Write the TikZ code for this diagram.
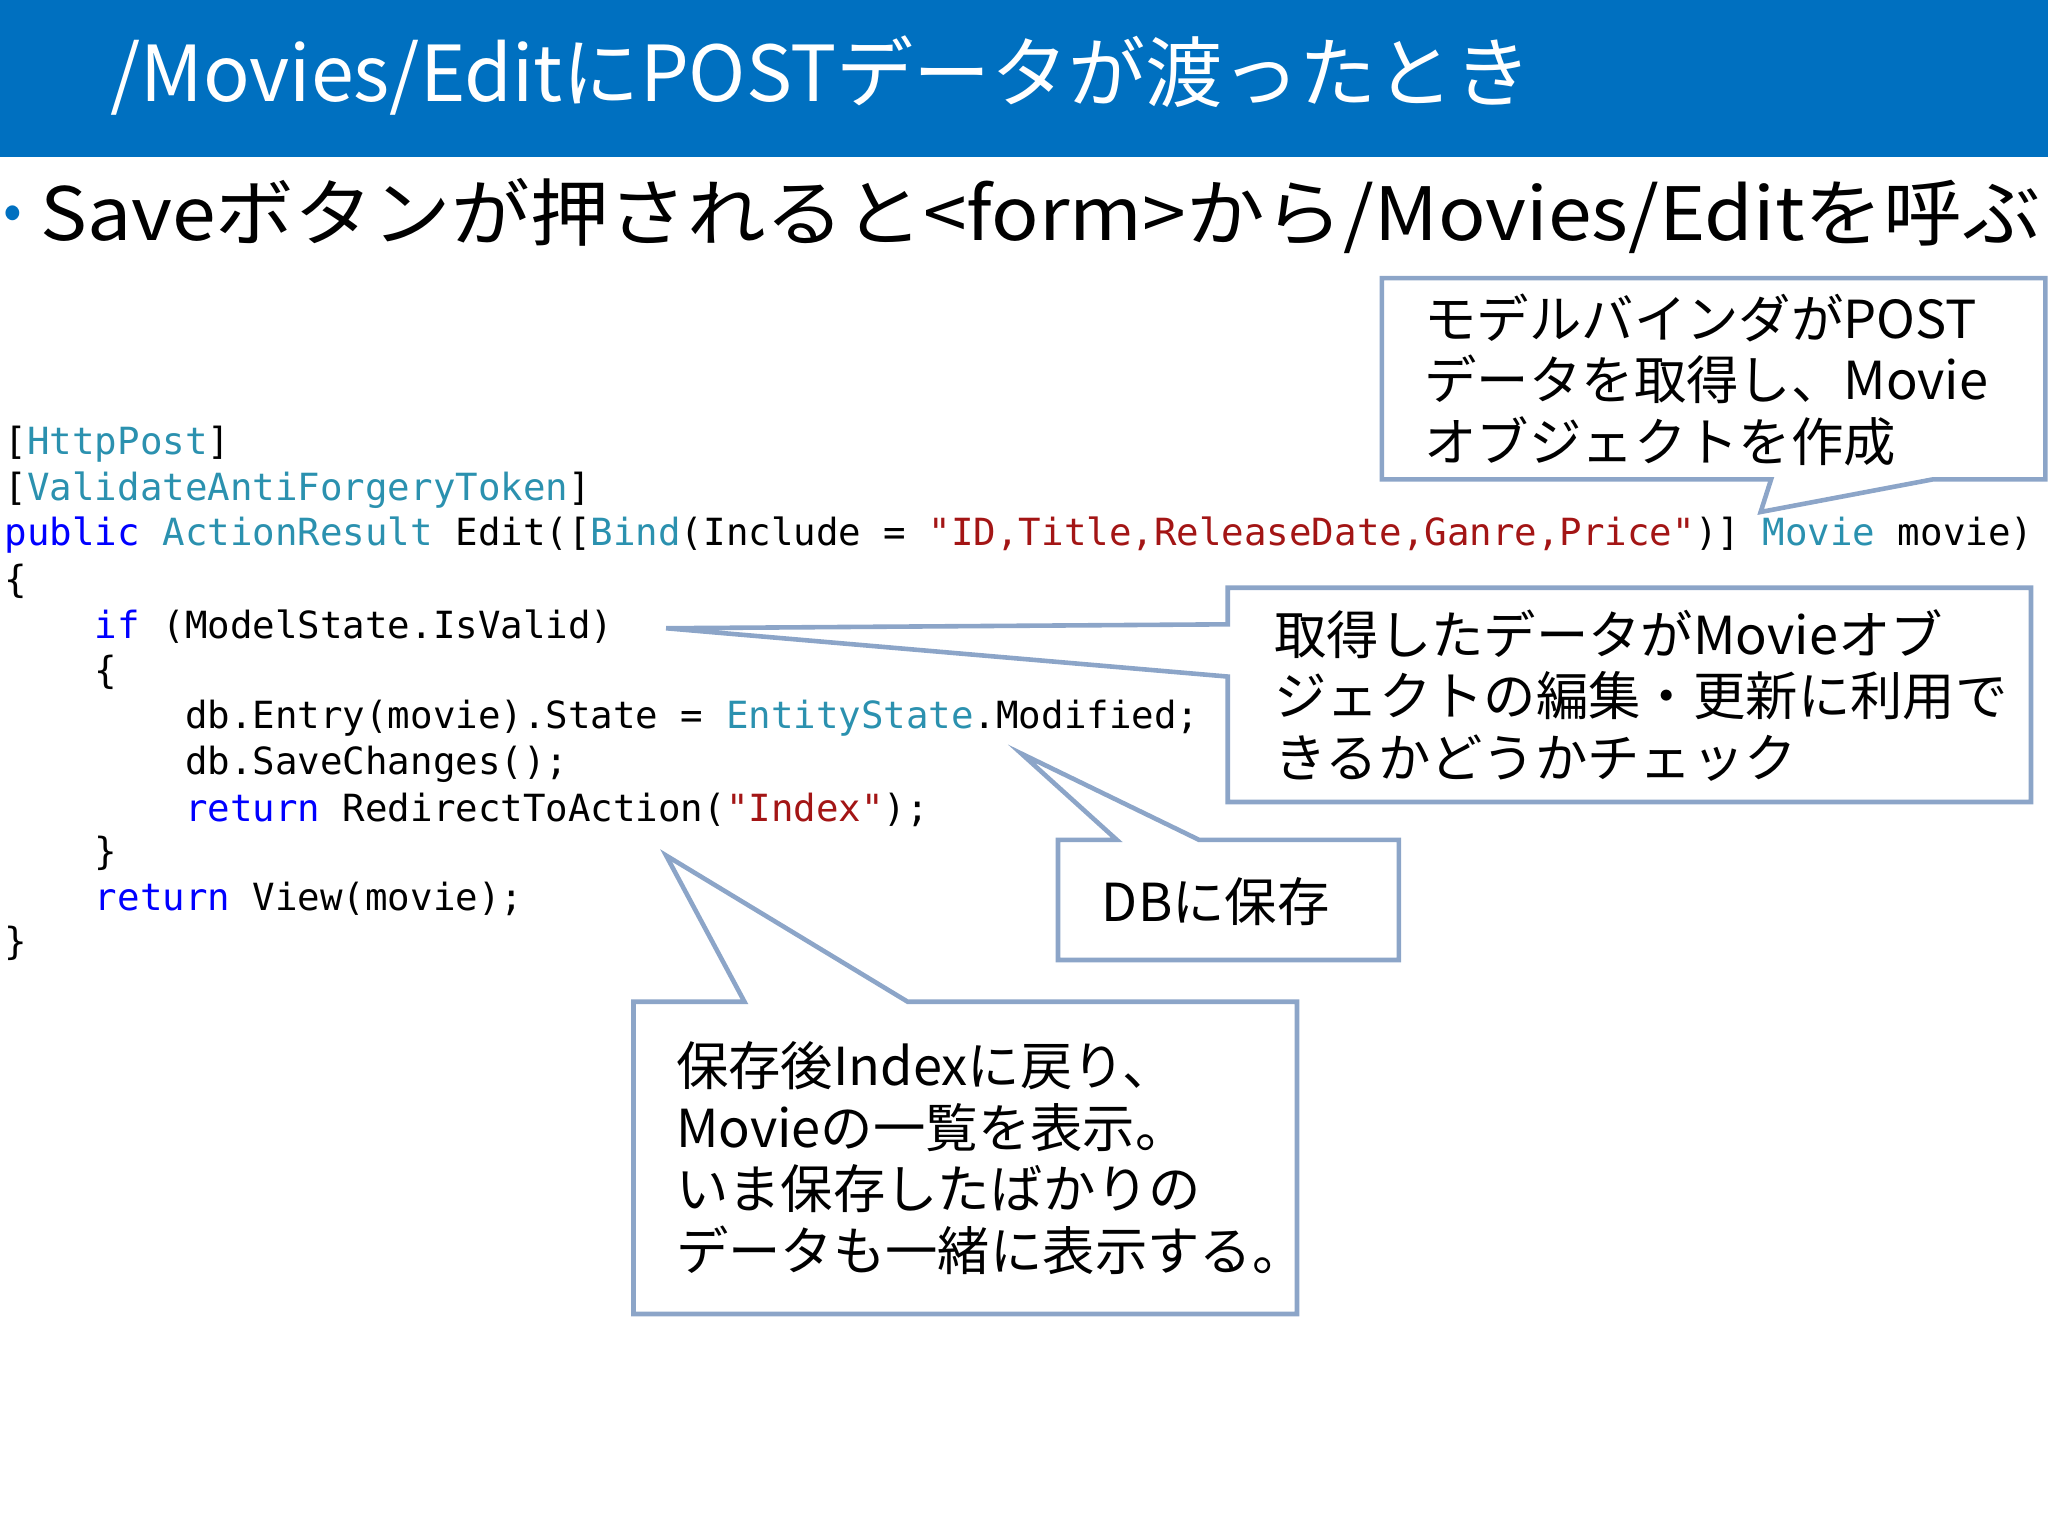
\documentclass[tikz,border=0pt]{standalone}
\usepackage{fontspec}
\setmainfont{Noto Sans CJK JP}
\setmonofont{DejaVu Sans Mono}
\definecolor{titleblue}{RGB}{0,112,192}
\definecolor{callout}{RGB}{140,165,200}
\definecolor{kw}{RGB}{0,0,255}
\definecolor{ty}{RGB}{43,145,175}
\definecolor{st}{RGB}{163,21,21}
\newcommand{\K}[1]{\textcolor{kw}{#1}}
\newcommand{\T}[1]{\textcolor{ty}{#1}}
\newcommand{\Sg}[1]{\textcolor{st}{#1}}
\begin{document}
\begin{tikzpicture}[x=0.01cm,y=-0.01cm,
  code/.style={anchor=west,inner sep=0,font=\fontsize{8.15pt}{9pt}\ttfamily},
  note/.style={anchor=north west,inner sep=0,align=left,font=\fontsize{11.4pt}{13.4pt}\selectfont},
  cbox/.style={draw=callout,line width=1pt,fill=white}]
\useasboundingbox (0,0) rectangle (1568,1176);
\fill[titleblue] (0,0) rectangle (1568,120);
\node[anchor=west,text=white,font=\fontsize{16.8pt}{20pt}\selectfont] (title) at (72,58) {/Movies/EditにPOSTデータが渡ったとき};
\node[anchor=west,inner sep=0,text=titleblue,font=\fontsize{12pt}{14pt}\selectfont] (dot) at (2,167) {•};
\node[anchor=west,inner sep=0,xscale=1.07,font=\fontsize{16pt}{19pt}\selectfont] (bullet) at (30,165) {Saveボタンが押されると<form>から/Movies/Editを呼ぶ};
% code
\node[code] (c1) at (3,340) {[\T{HttpPost}]};
\node[code] (c2) at (3,375) {[\T{ValidateAntiForgeryToken}]};
\node[code] (c3) at (3,410) {\K{public} \T{ActionResult} Edit([\T{Bind}(Include = \Sg{"ID,Title,ReleaseDate,Ganre,Price"})] \T{Movie} movie)};
\node[code] (c4) at (3,445) {\{};
\node[code] (c5) at (3,480) {\ \ \ \ \K{if} (ModelState.IsValid)};
\node[code] (c6) at (3,515) {\ \ \ \ \{};
\node[code] (c7) at (3,550) {\ \ \ \ \ \ \ \ db.Entry(movie).State = \T{EntityState}.Modified;};
\node[code] (c8) at (3,585) {\ \ \ \ \ \ \ \ db.SaveChanges();};
\node[code] (c9) at (3,620) {\ \ \ \ \ \ \ \ \K{return} RedirectToAction(\Sg{"Index"});};
\node[code] (c10) at (3,653) {\ \ \ \ \}};
\node[code] (c11) at (3,688) {\ \ \ \ \K{return} View(movie);};
\node[code] (c12) at (3,722) {\}};
% callouts
\draw[cbox] (1058,213) -- (1566,213) -- (1566,367) -- (1480,367) -- (1348,392) -- (1356,367) -- (1058,367) -- cycle;
\node[note] (n1) at (1090,224) {モデルバインダがPOST\\データを取得し、Movie\\オブジェクトを作成};
\draw[cbox] (940,450) -- (1555,450) -- (1555,614) -- (940,614) -- (940,518) -- (510,481) -- (940,478) -- cycle;
\node[note] (n2) at (975,466) {取得したデータがMovieオブ\\ジェクトの編集・更新に利用で\\きるかどうかチェック};
\draw[cbox] (810,643) -- (855,643) -- (782,577) -- (918,643) -- (1071,643) -- (1071,735) -- (810,735) -- cycle;
\node[note,anchor=west] (n3) at (843,690) {DBに保存};
\draw[cbox] (485,767) -- (570,767) -- (510,655) -- (695,767) -- (993,767) -- (993,1006) -- (485,1006) -- cycle;
\node[note] (n4) at (517,797) {保存後Indexに戻り、\\Movieの一覧を表示。\\いま保存したばかりの\\データも一緒に表示する。};
\end{tikzpicture}
\end{document}
